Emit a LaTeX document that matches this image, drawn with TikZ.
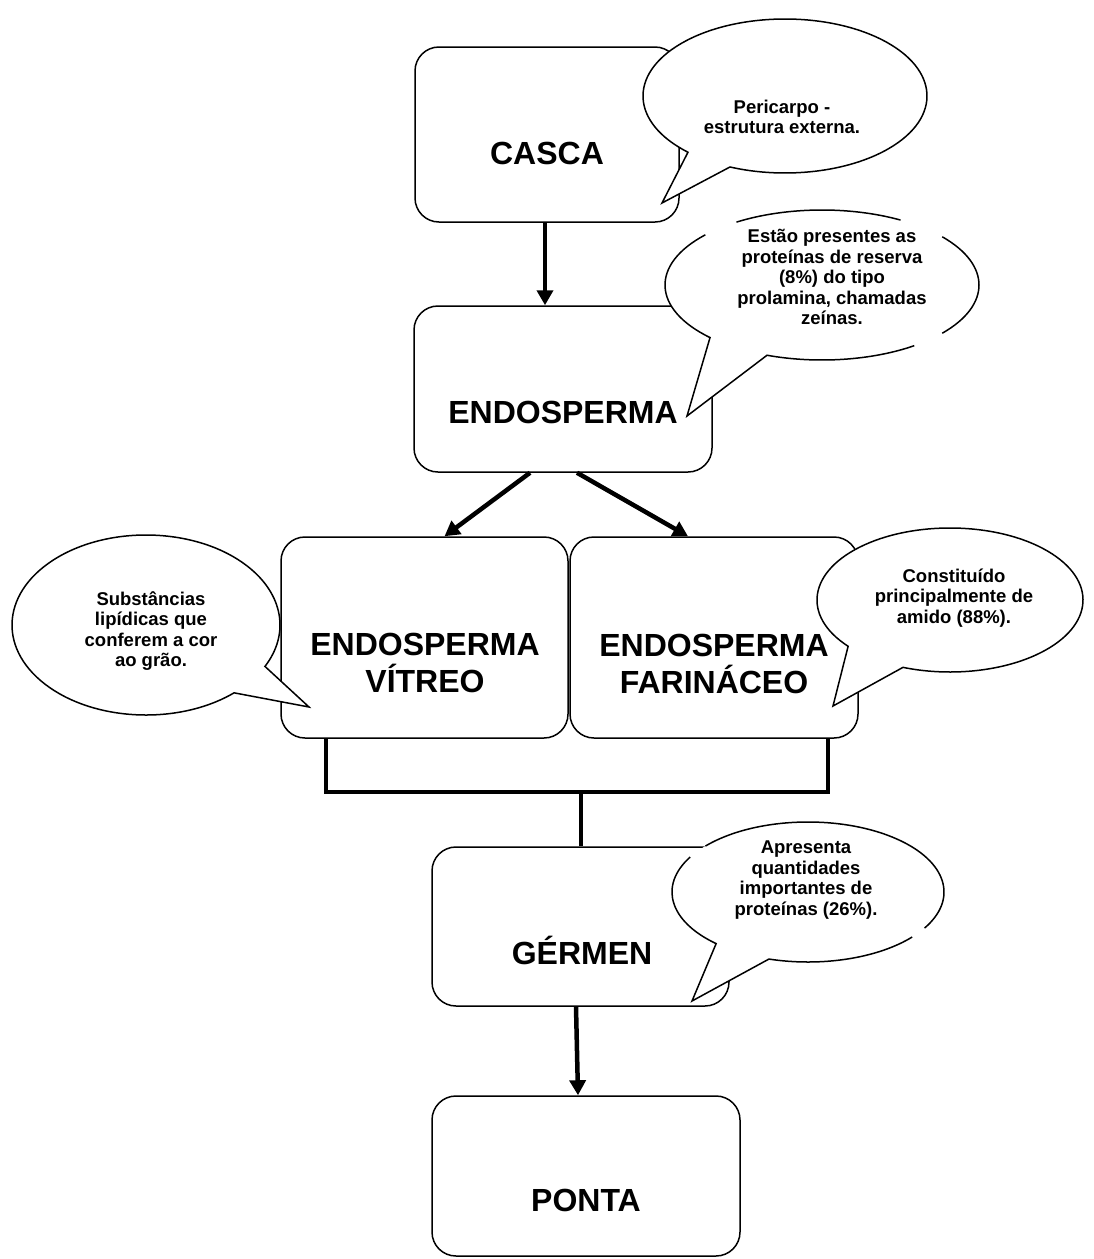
\documentclass[tikz,border=0pt]{standalone}
\usepackage{fontspec}
\setmainfont{Liberation Sans}
\usetikzlibrary{arrows.meta,calc}
\newcommand\balloon[8]{%
  \filldraw[balloonline, fill=white] ({#1+#3*cos(#5)},{#2+#4*sin(#5)}) arc[start angle={-(#5)}, end angle={-(#6)}, x radius=#3pt, y radius=#4pt] -- (#7,#8) -- cycle;}
\begin{document}
\begin{tikzpicture}[x=1pt,y=-1pt,
  box/.style={draw=black, line width=1.5pt, rounded corners=24pt, fill=white, inner sep=0pt},
  boxlabel/.style={font=\fontsize{32}{37}\selectfont\bfseries, align=center, inner sep=0pt},
  notelabel/.style={font=\fontsize{18.5}{20.5}\selectfont\bfseries, align=center, inner sep=0pt},
  link/.style={line width=4.5pt, draw=black, line join=miter},
  arrowlink/.style={link, -{Triangle[length=15pt,width=16pt]}},
  balloonline/.style={line width=1.5pt, draw=black, line join=miter}
]
\fill[white] (0,0) rectangle (1094,1259);
\useasboundingbox (0,0) rectangle (1094,1259);

% boxes
\node[box, minimum width=264pt, minimum height=175pt] (casca) at (547,134.5) {};
\node[box, minimum width=298pt, minimum height=166pt] (endo) at (563,389) {};
\node[box, minimum width=287pt, minimum height=201pt] (vit) at (424.5,637.5) {};
\node[box, minimum width=288pt, minimum height=201pt] (far) at (714,637.5) {};
\node[box, minimum width=297pt, minimum height=159pt] (germ) at (580.5,926.5) {};
\node[box, minimum width=308pt, minimum height=160pt] (ponta) at (586,1176) {};

% connectors
\draw[arrowlink] ([xshift=-2pt]casca.south) -- ([xshift=-2pt]casca.south |- endo.north);
\draw[arrowlink] ([xshift=-33pt]endo.south) -- ([xshift=20pt]vit.north);
\draw[arrowlink] ([xshift=14pt]endo.south) -- ([xshift=-26pt]far.north);
\coordinate (bar) at (581,792);
\draw[link] ($(vit.south)+(-98.5,0)$) |- (bar) -| ($(far.south)+(114,0)$);
\draw[link] (bar) -- (bar |- germ.north);
\draw[arrowlink] ([xshift=-4.5pt]germ.south) -- ([xshift=-8pt]ponta.north);

% callouts
\balloon{785}{96}{142}{77}{133.1}{472.8}{662}{203}
\balloon{146}{625}{134}{90}{48.9}{387.4}{309}{707}
\balloon{950}{600}{133}{72}{140}{470.7}{833}{706}

% Estao callout (outline with gaps)
\fill[white] ({822+157*cos(135.5)},{285+75*sin(135.5)}) arc[start angle=-135.5, end angle=-470.5, x radius=157pt, y radius=75pt] -- (687,416) -- cycle;
\draw[balloonline] ({822+157*cos(222)},{285+75*sin(222)}) arc[start angle=-222, end angle=-135.5, x radius=157pt, y radius=75pt]
  -- (687,416) -- ({822+157*cos(110.5)},{285+75*sin(110.5)}) arc[start angle=-110.5, end angle=-54, x radius=157pt, y radius=75pt];
\draw[balloonline] ({822+157*cos(237)},{285+75*sin(237)}) arc[start angle=-237, end angle=-300, x radius=157pt, y radius=75pt];
\draw[balloonline] ({822+157*cos(320)},{285+75*sin(320)}) arc[start angle=-320, end angle=-400, x radius=157pt, y radius=75pt];

% Apresenta callout (outline with gaps)
\fill[white] ({808+136*cos(132.5)},{892+70*sin(132.5)}) arc[start angle=-132.5, end angle=-466.7, x radius=136pt, y radius=70pt] -- (692,1001) -- cycle;
\draw[balloonline] ({808+136*cos(210)},{892+70*sin(210)}) arc[start angle=-210, end angle=-132.5, x radius=136pt, y radius=70pt]
  -- (692,1001) -- ({808+136*cos(106.7)},{892+70*sin(106.7)}) arc[start angle=-106.7, end angle=-40, x radius=136pt, y radius=70pt];
\draw[balloonline] ({808+136*cos(221)},{892+70*sin(221)}) arc[start angle=-221, end angle=-391, x radius=136pt, y radius=70pt];

% box labels
\node[boxlabel] (casca-t) at (547,153) {CASCA};
\node[boxlabel] (endo-t) at (563,412) {ENDOSPERMA};
\node[boxlabel] (vit-t) at (425,663) {ENDOSPERMA\\VÍTREO};
\node[boxlabel] (far-t) at (714,664) {ENDOSPERMA\\FARINÁCEO};
\node[boxlabel] (germ-t) at (582,950) {GÉRMEN};
\node[boxlabel] (ponta-t) at (586,1200) {PONTA};

% callout texts
\node[notelabel] (n-casca) at (782,117) {Pericarpo -\\estrutura externa.};
\node[notelabel] (n-endo) at (832,277) {Estão presentes as\\proteínas de reserva\\(8\%) do tipo\\prolamina, chamadas\\zeínas.};
\node[notelabel] (n-vit) at (151,631) {Substâncias\\lipídicas que\\conferem a cor\\ao grão.};
\node[notelabel] (n-far) at (954,598) {Constituído\\principalmente de\\amido (88\%).};
\node[notelabel] (n-germ) at (806,880) {Apresenta\\quantidades\\importantes de\\proteínas (26\%).};
\end{tikzpicture}
\end{document}
